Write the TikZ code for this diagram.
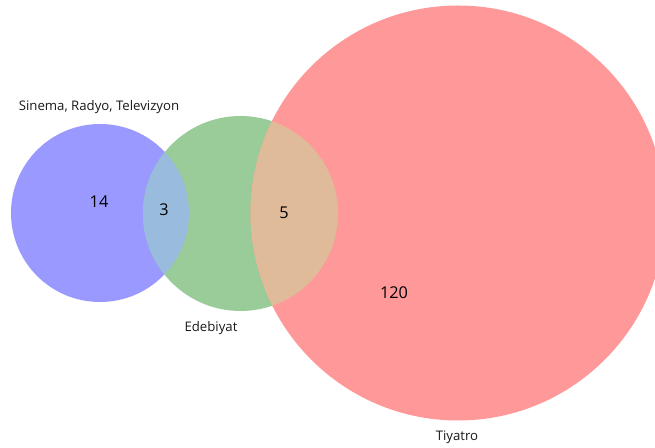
\documentclass[tikz,border=0pt]{standalone}
\usepackage{fontspec}
\setmainfont{Open Sans}
\definecolor{cblue}{HTML}{9999FF}
\definecolor{cgreen}{HTML}{99CC99}
\definecolor{cred}{HTML}{FF9999}
\definecolor{cbg}{HTML}{99BBDD}
\definecolor{cgr}{HTML}{DFBB99}
\tikzset{
  setlabel/.style={font=\fontsize{9.9}{11}\selectfont, text=black!90},
  count/.style={font=\fontsize{12.2}{14}\selectfont, text=black}
}
\begin{document}
\begin{tikzpicture}[x=0.75pt,y=-0.75pt]
\useasboundingbox (0,0) rectangle (655,448);
\begin{scope}
\clip (0,0) rectangle (655,448);
\coordinate (B) at (100,213);
\coordinate (G) at (240.5,213.5);
\coordinate (R) at (458,213);
\fill[cblue] (B) circle[radius=89];
\fill[cgreen] (G) circle[radius=97.5];
\fill[cred] (R) circle[radius=207.5];
\begin{scope}
\clip (B) circle[radius=89];
\fill[cbg] (G) circle[radius=97.5];
\end{scope}
\begin{scope}
\clip (R) circle[radius=207.5];
\fill[cgr] (G) circle[radius=97.5];
\end{scope}
\end{scope}
\node[setlabel] (lB) at (99,107) {Sinema, Radyo, Televizyon};
\node[setlabel] (lG) at (211,328) {Edebiyat};
\node[setlabel] (lR) at (457,437) {Tiyatro};
\node[count] (n14) at (99,202) {14};
\node[count] (n3) at (164,210) {3};
\node[count] (n5) at (284,213) {5};
\node[count] (n120) at (394,293) {120};
\end{tikzpicture}
\end{document}
